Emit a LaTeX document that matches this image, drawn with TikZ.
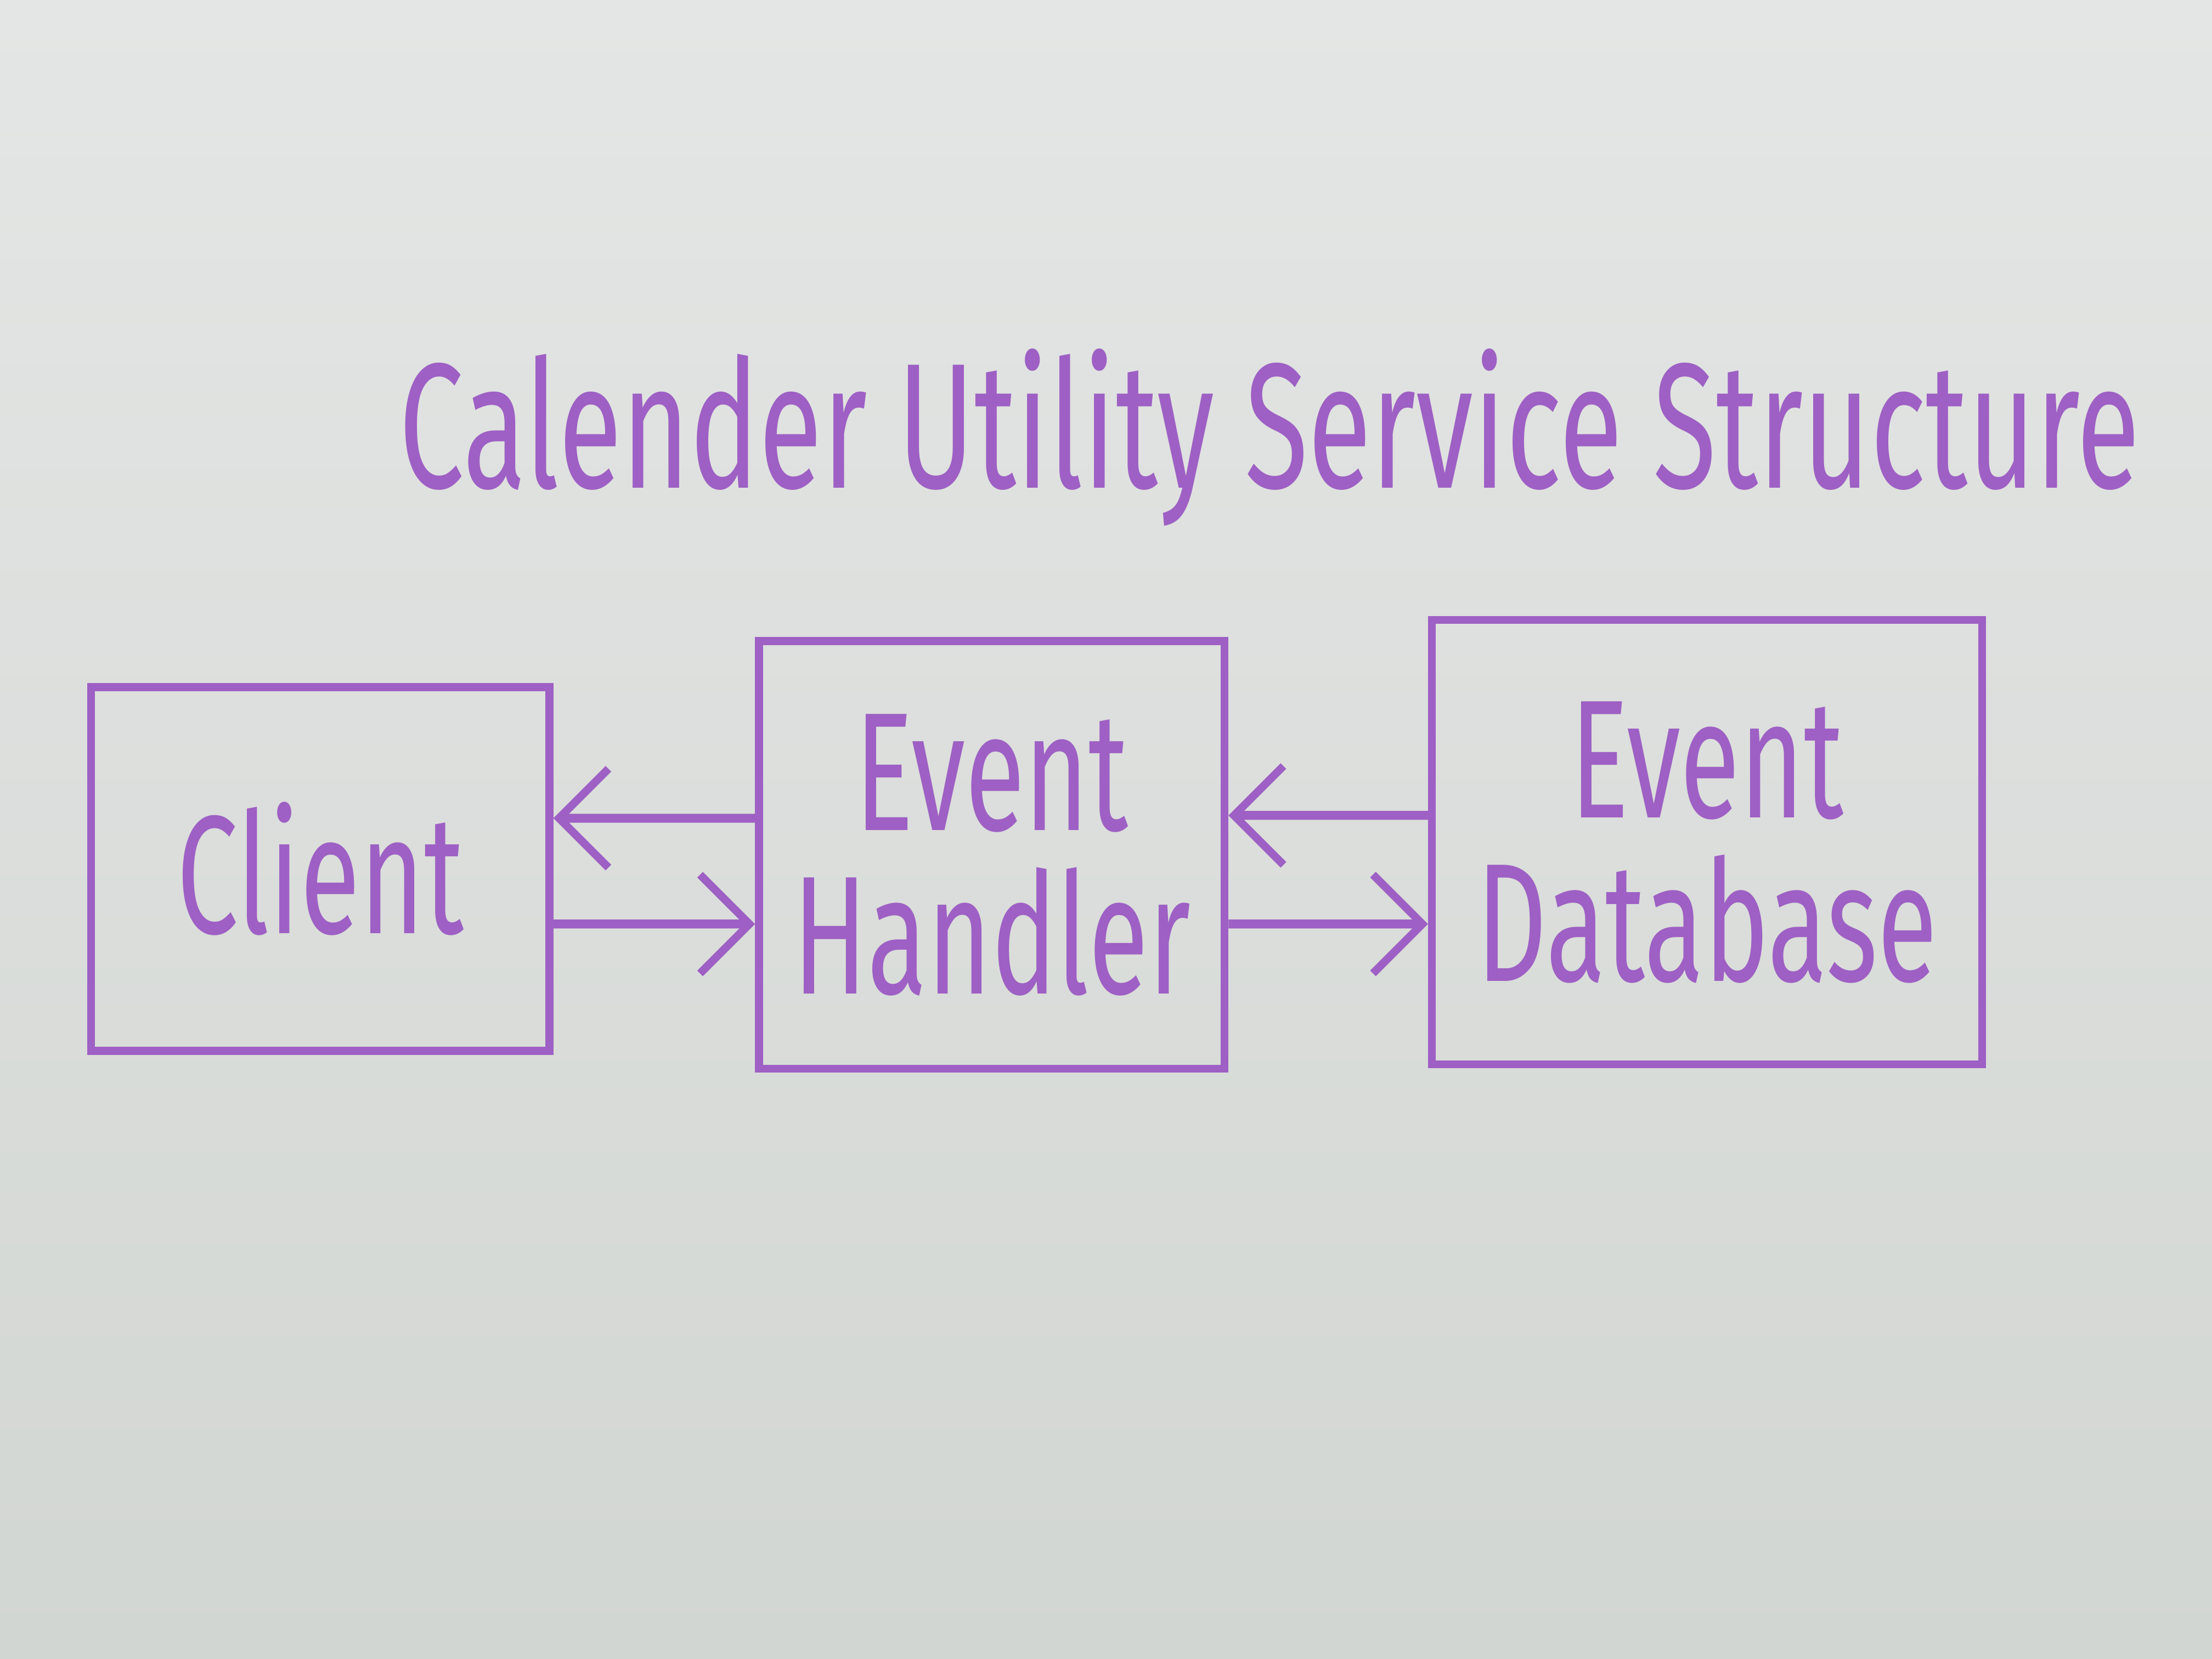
\documentclass[tikz,border=0pt]{standalone}
\usepackage{fontspec}
\setmainfont{Fira Sans}
\newfontfamily\handfont[FakeStretch=0.65]{Fira Sans}
\usepackage{tikz}
\usetikzlibrary{arrows.meta,positioning}
\definecolor{marker}{RGB}{158,96,196}
\definecolor{boardtop}{RGB}{228,230,229}
\definecolor{boardbot}{RGB}{210,214,210}

\begin{document}
\begin{tikzpicture}[
    font=\handfont,
    blk/.style={draw=marker, line width=1.6pt, align=center, text=marker, font=\handfont\fontsize{34}{33}\selectfont, inner sep=0pt},
    arr/.style={-{Straight Barb[length=3.5mm, width=7mm, line width=1.6pt]}, line width=1.8pt, draw=marker}
  ]

  % --- BOARD ---
  \path[use as bounding box, top color=boardtop, bottom color=boardbot] (0,0) rectangle (15.68,-11.76);

  % --- TITLE ---
  \node[text=marker, font=\handfont\fontsize{36}{40}\selectfont] (title) at (9.0,-3.1) {Calender Utility Service Structure};

  % --- BOXES ---
  \node[blk, minimum width=3.25cm, minimum height=2.58cm] (client) at (2.27,-6.16) {Client};
  \node[blk, minimum width=3.3cm, minimum height=3.03cm] (handler) at (7.03,-6.06) {Event\\Handler};
  \node[blk, minimum width=3.9cm, minimum height=3.15cm] (database) at (12.1,-5.97) {Event\\Database};

  % --- CONNECTIONS ---
  % Handler <-> Client
  \draw[arr] ([yshift=2.6mm]handler.west) -- ([yshift=3.6mm]client.east);
  \draw[arr] ([yshift=-3.9mm]client.east) -- ([yshift=-4.9mm]handler.west);

  % Database <-> Handler
  \draw[arr] ([yshift=1.9mm]database.west) -- ([yshift=2.8mm]handler.east);
  \draw[arr] ([yshift=-4.9mm]handler.east) -- ([yshift=-5.8mm]database.west);

\end{tikzpicture}
\end{document}
